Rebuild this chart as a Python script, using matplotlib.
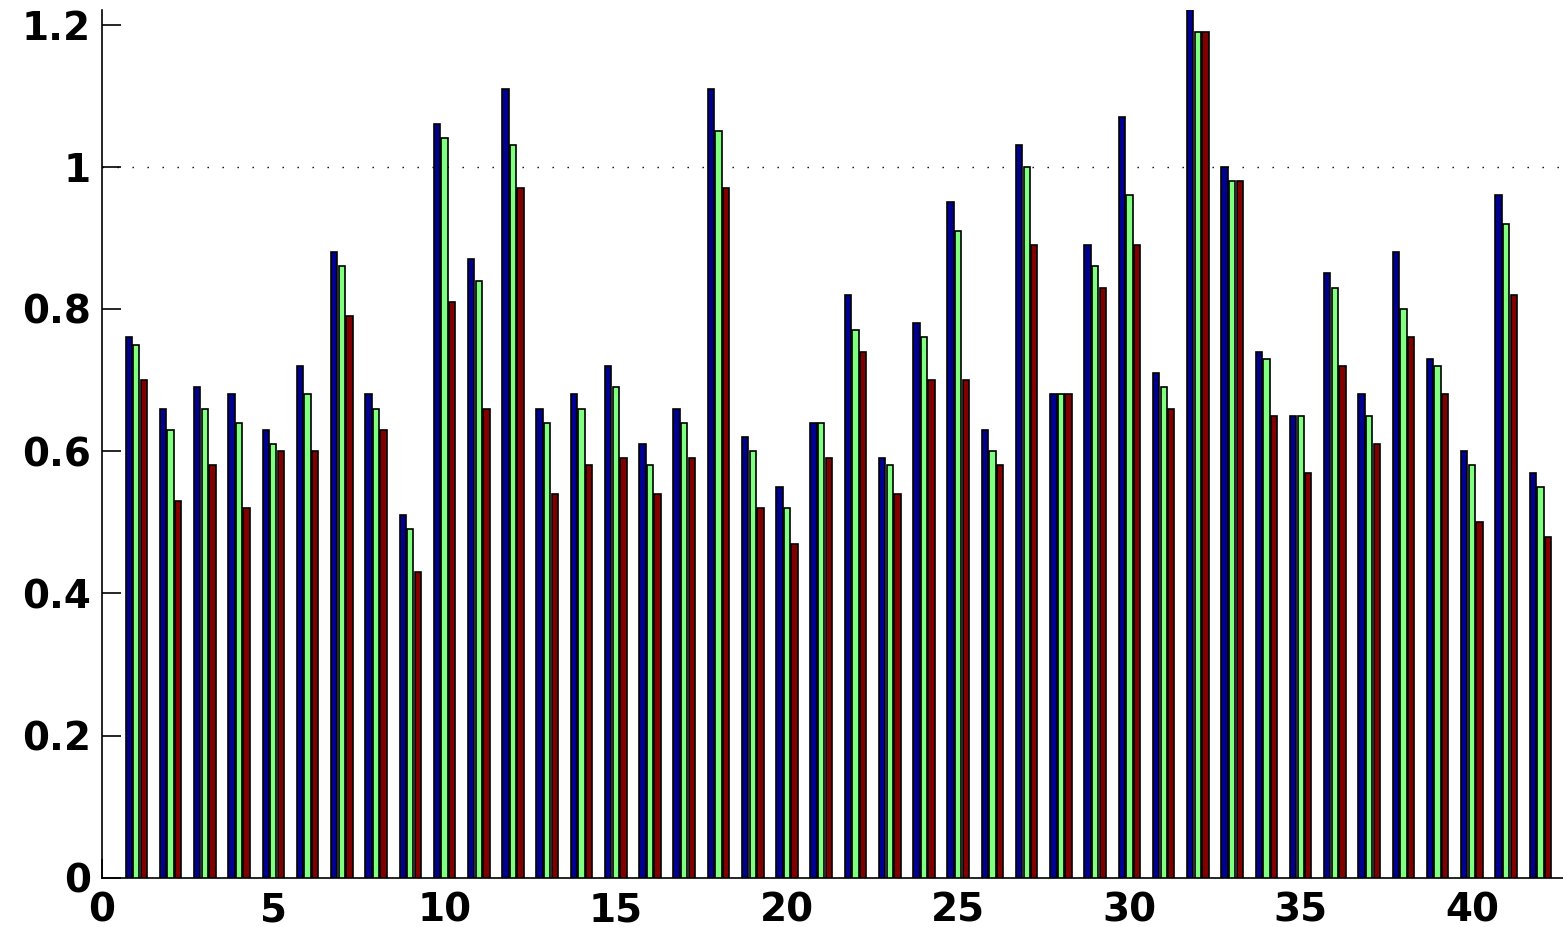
import numpy as np
import matplotlib
matplotlib.use('Agg')
import matplotlib.pyplot as plt

# values, one list per series
groups = list(range(1, 43))
series_blue = [0.76, 0.66, 0.69, 0.68, 0.63, 0.72, 0.88, 0.68, 0.51, 1.06,
               0.87, 1.11, 0.66, 0.68, 0.72, 0.61, 0.66, 1.11, 0.62, 0.55,
               0.64, 0.82, 0.59, 0.78, 0.95, 0.63, 1.03, 0.68, 0.89, 1.07,
               0.71, 1.24, 1.00, 0.74, 0.65, 0.85, 0.68, 0.88, 0.73, 0.60,
               0.96, 0.57]
series_green = [0.75, 0.63, 0.66, 0.64, 0.61, 0.68, 0.86, 0.66, 0.49, 1.04,
                0.84, 1.03, 0.64, 0.66, 0.69, 0.58, 0.64, 1.05, 0.60, 0.52,
                0.64, 0.77, 0.58, 0.76, 0.91, 0.60, 1.00, 0.68, 0.86, 0.96,
                0.69, 1.19, 0.98, 0.73, 0.65, 0.83, 0.65, 0.80, 0.72, 0.58,
                0.92, 0.55]
series_red = [0.70, 0.53, 0.58, 0.52, 0.60, 0.60, 0.79, 0.63, 0.43, 0.81,
              0.66, 0.97, 0.54, 0.58, 0.59, 0.54, 0.59, 0.97, 0.52, 0.47,
              0.59, 0.74, 0.54, 0.70, 0.70, 0.58, 0.89, 0.68, 0.83, 0.89,
              0.66, 1.19, 0.98, 0.65, 0.57, 0.72, 0.61, 0.76, 0.68, 0.50,
              0.82, 0.48]
xticks = [0, 5, 10, 15, 20, 25, 30, 35, 40]
yticks = [0, 0.2, 0.4, 0.6, 0.8, 1.0, 1.2]
ytick_labels = ['0', '0.2', '0.4', '0.6', '0.8', '1', '1.2']

colors = ['#00008f', '#80ff80', '#800000']

fig = plt.figure(figsize=(15.63, 9.27), dpi=100)
ax = fig.add_axes([0.0653, 0.0529, 0.9347, 0.936])

x = np.array(groups, dtype=float)
step = 0.2222
width = 0.185
for i, (vals, c) in enumerate(zip([series_blue, series_green, series_red], colors)):
    ax.bar(x + (i - 1) * step, vals, width=width, color=c,
           edgecolor='black', linewidth=1.2, zorder=3)

# dotted reference line at 1
ax.axhline(1.0, color='black', linestyle=(0, (1, 9.8)), linewidth=1.0, zorder=2)

ax.set_xlim(0, 42.66)
ax.set_ylim(0, 1.22)
ax.set_xticks(xticks)
ax.set_yticks(yticks)
ax.set_yticklabels(ytick_labels)

for side in ['top', 'right']:
    ax.spines[side].set_visible(False)
for side in ['left', 'bottom']:
    ax.spines[side].set_linewidth(1.2)

ax.tick_params(axis='both', direction='in', length=14, width=1.2)
ax.tick_params(axis='y', pad=8)
ax.tick_params(axis='x', pad=10)
for lbl in ax.get_xticklabels() + ax.get_yticklabels():
    lbl.set_fontfamily('DejaVu Sans')
    lbl.set_fontweight('bold')
    lbl.set_fontsize(28)

fig.savefig('out.png', dpi=100)
